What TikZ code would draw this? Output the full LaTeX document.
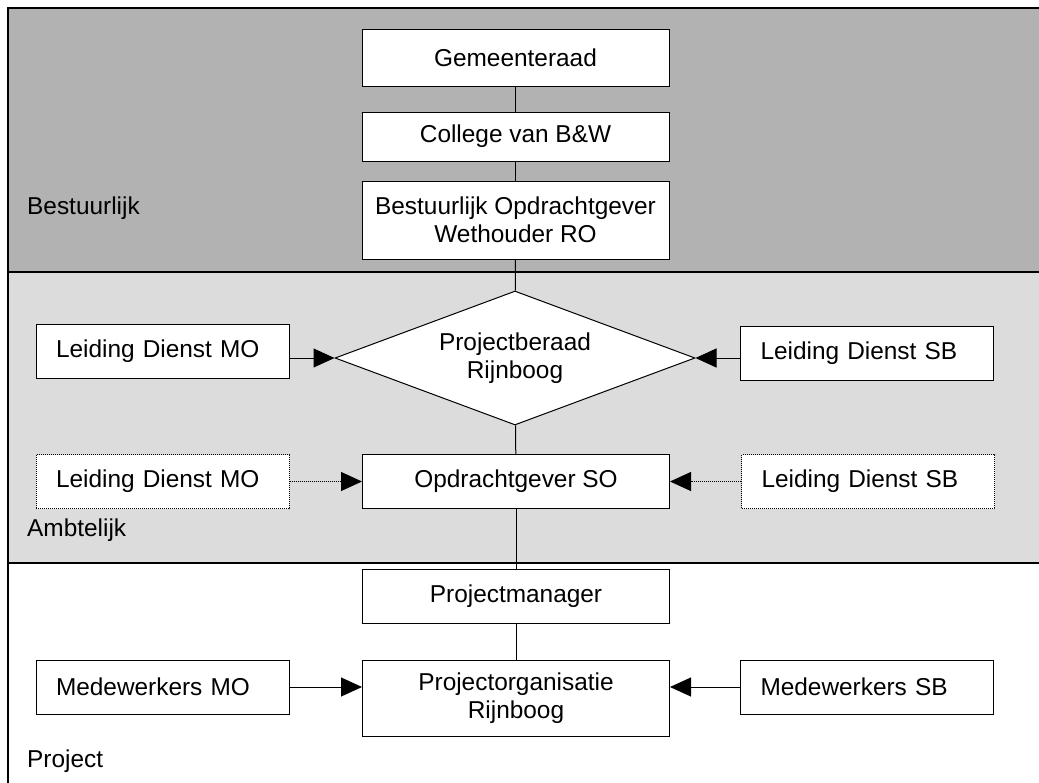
\documentclass[tikz,border=0pt]{standalone}
\usepackage{fontspec}
\setmainfont{Liberation Sans}
\usetikzlibrary{shapes.geometric,arrows.meta}
\definecolor{bestgray}{RGB}{178,178,178}
\definecolor{ambtgray}{RGB}{220,220,220}
\begin{document}
\begin{tikzpicture}[x=1pt,y=-1pt,every node/.style={font=\fontsize{24.4pt}{28pt}\selectfont}]
  \tikzset{midbox/.style={draw,fill=white,line width=1pt,minimum width=307pt,minimum height=#1,align=center,inner sep=0pt},
    sidebox/.style={draw,fill=white,line width=1pt,text width=213pt,inner xsep=20pt,inner ysep=0pt,minimum height=54pt,align=left},
    band/.style={draw,line width=1.2pt,fill=#1},
    link/.style={line width=1pt},
    feed/.style={line width=1pt,-{Triangle[length=21pt,width=19pt]}},
    dots/.style={dash pattern=on 1pt off 1pt}}

  \useasboundingbox (0,0) rectangle (1039,782);
  \clip (0,0) rectangle (1039,782);
  \path[band=bestgray] (8,8) rectangle (1050,272);
  \path[band=ambtgray] (8,272) rectangle (1050,563);
  \path[band=white] (8,563) rectangle (1050,800);

  \node[anchor=base west,inner sep=0pt] (best) at (27,214) {Bestuurlijk};
  \node[anchor=base west,inner sep=0pt] (ambt) at (27,536) {Ambtelijk};
  \node[anchor=base west,inner sep=0pt] (proj) at (27,767) {Project};

  \node[midbox=57pt] (G) at (515.5,57.5) {Gemeenteraad};
  \node[midbox=49pt] (C) at (515.5,136.5) {College van B\&W};
  \node[midbox=78pt] (BO) at (515.5,220) {Bestuurlijk Opdrachtgever\\Wethouder RO};
  \node[diamond,aspect=2.69,draw,fill=white,line width=1pt,minimum width=360pt,minimum height=134pt,inner sep=0pt,align=center] (PB) at (515,358) {Projectberaad\\Rijnboog};
  \node[sidebox] (LMO) at (162.5,351.5) {Leiding Dienst MO};
  \node[sidebox] (LSB) at (867,353) {Leiding Dienst SB};
  \node[midbox=54pt] (SO) at (516,481.5) {Opdrachtgever SO};
  \node[sidebox,dots] (LMO2) at (162.5,481.5) {Leiding Dienst MO};
  \node[sidebox,dots] (LSB2) at (868,481.5) {Leiding Dienst SB};
  \node[midbox=54pt] (PM) at (516,596) {Projectmanager};
  \node[midbox=76pt] (PO) at (516,698) {Projectorganisatie\\Rijnboog};
  \node[sidebox] (MMO) at (162.5,687) {Medewerkers MO};
  \node[sidebox] (MSB) at (867,687) {Medewerkers SB};

  \draw[link] (G) -- (C);
  \draw[link] (C) -- (BO);
  \draw[link] (BO) -- (PB);
  \draw[link] (PB) -- (SO);
  \draw[link] (SO) -- (PM);
  \draw[link] (PM) -- (PO);
  \draw[feed] (LMO.east |- PB.west) -- (PB.west);
  \draw[feed] (LSB.west |- PB.east) -- (PB.east);
  \draw[feed,dots] (LMO2) -- (SO);
  \draw[feed,dots] (LSB2) -- (SO);
  \draw[feed] (MMO.east) -- (MMO.east -| PO.west);
  \draw[feed] (MSB.west) -- (MSB.west -| PO.east);
\end{tikzpicture}
\end{document}
